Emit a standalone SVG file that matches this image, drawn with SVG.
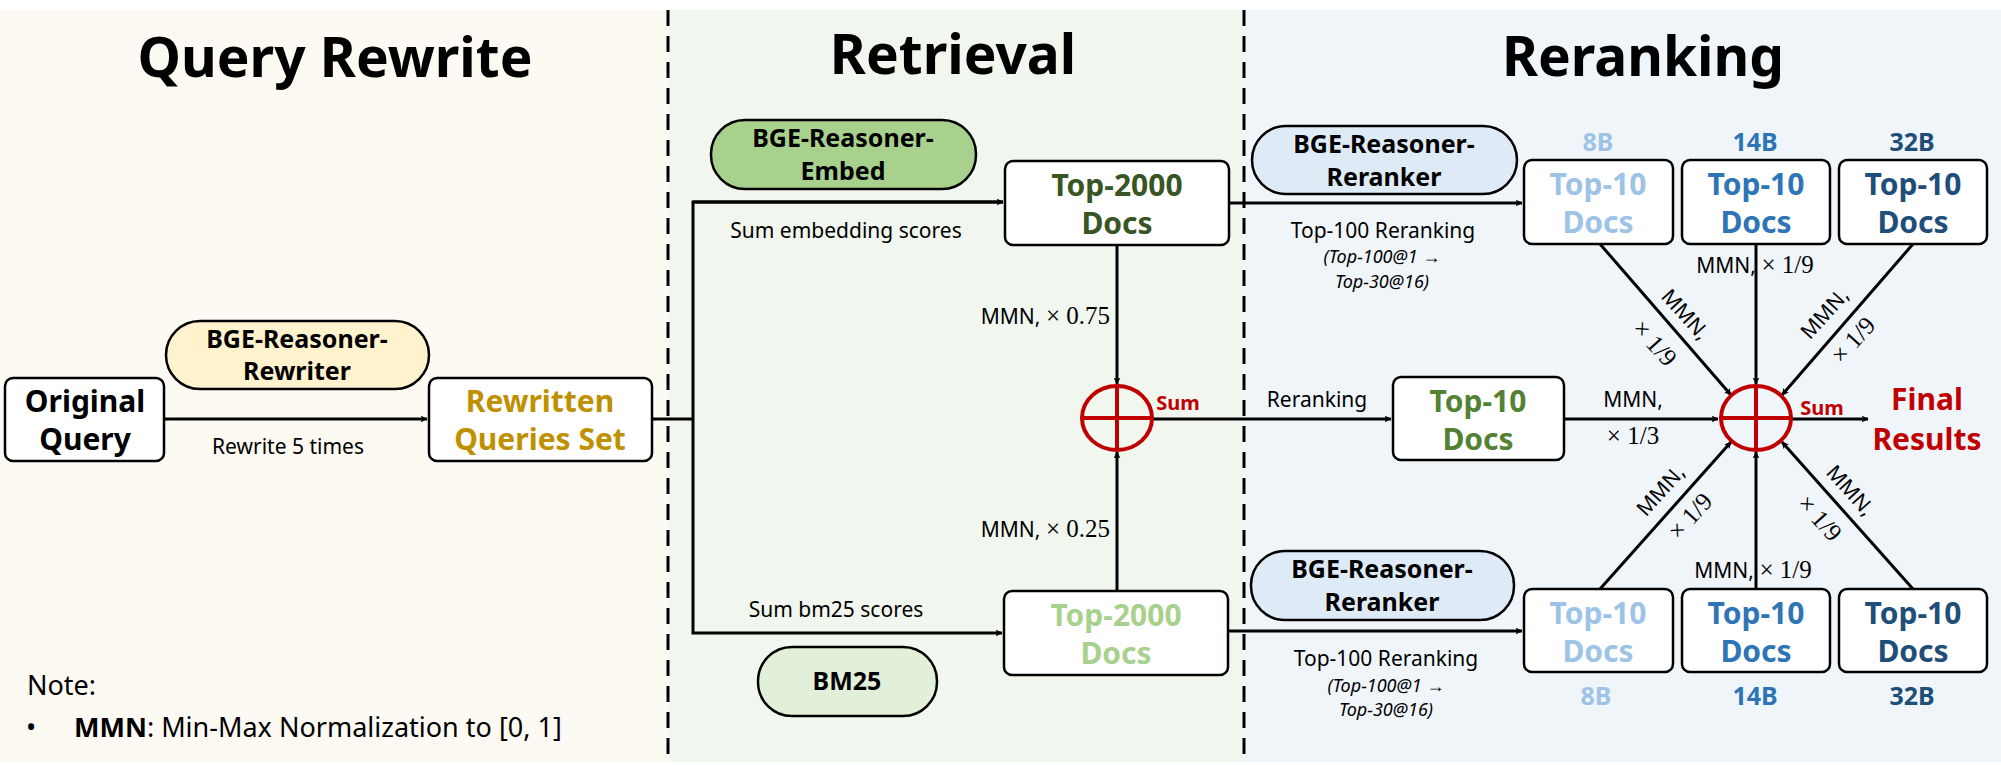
<svg xmlns="http://www.w3.org/2000/svg" width="2001" height="765" viewBox="0 0 2001 765">
<style>
text{font-family:"Noto Sans","Open Sans",sans-serif;text-anchor:middle}
.t{font-size:55px;font-weight:bold}
.n{fill:#fff;stroke:#000;stroke-width:2.5}
.b{font-size:30px;font-weight:bold}
.p{font-size:25px;font-weight:bold}
.l{font-size:21px}
.i{font-size:18px;font-style:italic}
.m{font-family:"Liberation Serif",serif;font-size:25px}
.r{dominant-baseline:central}
.c{fill:none;stroke:#000;stroke-width:3}
.s{fill:none;stroke:#c00000;stroke-width:4}
.dash{stroke:#000;stroke-width:3;stroke-dasharray:16,10}
</style>
<defs>
<marker id="a" viewBox="0 0 12 12" refX="11" refY="6" markerWidth="7" markerHeight="7" orient="auto" markerUnits="userSpaceOnUse">
<path d="M0,0 L12,6 L0,12 L3,6 Z" fill="#000"/>
</marker>
</defs>
<rect width="2001" height="765" fill="#fff"/>
<rect x="0" y="10" width="668" height="752" fill="#fdfaf3"/>
<rect x="668" y="10" width="576" height="752" fill="#f1f6ee"/>
<rect x="1244" y="10" width="757" height="752" fill="#f0f5fa"/>
<line class="dash" x1="668" y1="10" x2="668" y2="762"/>
<line class="dash" x1="1244" y1="10" x2="1244" y2="762"/>
<text class="t" x="335" y="77">Query Rewrite</text>
<text class="t" x="953" y="74">Retrieval</text>
<text class="t" x="1643" y="76">Reranking</text>

<g id="connectors">
<line class="c" x1="164" y1="419" x2="427" y2="419" marker-end="url(#a)"/>
<polyline class="c" points="652,419 693,419"/>
<polyline class="c" points="1003,202 693,202 693,633 1002,633" marker-end="url(#a)"/>
<line class="c" x1="693" y1="202" x2="1003" y2="202" marker-end="url(#a)"/>
<line class="c" x1="1117" y1="245" x2="1117" y2="384" marker-end="url(#a)"/>
<line class="c" x1="1117" y1="591" x2="1117" y2="452" marker-end="url(#a)"/>
<line class="c" x1="1153" y1="419" x2="1391" y2="419" marker-end="url(#a)"/>
<line class="c" x1="1229" y1="203" x2="1522" y2="203" marker-end="url(#a)"/>
<line class="c" x1="1228" y1="631" x2="1522" y2="631" marker-end="url(#a)"/>
<line class="c" x1="1564" y1="419" x2="1718" y2="419" marker-end="url(#a)"/>
<line class="c" x1="1600" y1="244" x2="1731" y2="395" marker-end="url(#a)"/>
<line class="c" x1="1756" y1="244" x2="1756" y2="384" marker-end="url(#a)"/>
<line class="c" x1="1913" y1="244" x2="1782" y2="395" marker-end="url(#a)"/>
<line class="c" x1="1600" y1="589" x2="1731" y2="442" marker-end="url(#a)"/>
<line class="c" x1="1756" y1="589" x2="1756" y2="452" marker-end="url(#a)"/>
<line class="c" x1="1913" y1="589" x2="1782" y2="442" marker-end="url(#a)"/>
<line class="c" x1="1792" y1="419" x2="1868" y2="419" marker-end="url(#a)"/>
</g>

<g id="labels">
<text class="l" x="288" y="454">Rewrite 5 times</text>
<text class="l" x="846" y="238">Sum embedding scores</text>
<text class="l" x="836" y="617">Sum bm25 scores</text>
<text class="l" x="1110" y="324" style="text-anchor:end">MMN, <tspan class="m">× 0.75</tspan></text>
<text class="l" x="1110" y="537" style="text-anchor:end">MMN, <tspan class="m">× 0.25</tspan></text>
<text class="l" x="1317" y="407">Reranking</text>
<text class="l" x="1383" y="238">Top-100 Reranking</text>
<text class="i" x="1382" y="263">(Top-100@1 →</text>
<text class="i" x="1382" y="288">Top-30@16)</text>
<text class="l" x="1386" y="666">Top-100 Reranking</text>
<text class="i" x="1386" y="692">(Top-100@1 →</text>
<text class="i" x="1386" y="716">Top-30@16)</text>
<text class="l" x="1633" y="407">MMN,</text>
<text class="m" x="1633" y="444">× 1/3</text>
<text class="l" x="1755" y="273">MMN, <tspan class="m">× 1/9</tspan></text>
<text class="l" x="1753" y="578">MMN, <tspan class="m">× 1/9</tspan></text>
<text class="l r" transform="translate(1686,314) rotate(48)">MMN,</text>
<text class="m r" transform="translate(1655,343) rotate(48)">× 1/9</text>
<text class="l r" transform="translate(1824,313) rotate(-48)">MMN,</text>
<text class="m r" transform="translate(1853,340) rotate(-48)">× 1/9</text>
<text class="l r" transform="translate(1660,490) rotate(-48)">MMN,</text>
<text class="m r" transform="translate(1690,516) rotate(-48)">× 1/9</text>
<text class="l r" transform="translate(1851,490) rotate(48)">MMN,</text>
<text class="m r" transform="translate(1820,518) rotate(48)">× 1/9</text>
</g>

<g id="original"><rect class="n" x="5" y="378" width="159" height="83" rx="8"/>
<text class="b" x="85" y="412" font-size="28">Original</text><text class="b" x="85" y="450" font-size="28">Query</text></g>
<g id="rewriter"><rect x="166" y="321" width="263" height="68" rx="34" fill="#fff2cc" stroke="#000" stroke-width="2.5"/>
<text class="p" x="297" y="348">BGE-Reasoner-</text><text class="p" x="297" y="380">Rewriter</text></g>
<g id="rewritten"><rect class="n" x="429" y="378" width="223" height="83" rx="8"/>
<text class="b" x="540" y="412" fill="#bf9000" font-size="28">Rewritten</text><text class="b" x="540" y="450" fill="#bf9000" font-size="28">Queries Set</text></g>

<g id="embed"><rect x="711" y="120" width="265" height="69" rx="34" fill="#a9d18e" stroke="#000" stroke-width="2.5"/>
<text class="p" x="843" y="147">BGE-Reasoner-</text><text class="p" x="843" y="180">Embed</text></g>
<g id="top2000a"><rect class="n" x="1005" y="161" width="224" height="84" rx="8"/>
<text class="b" x="1117" y="196" fill="#375623">Top-2000</text><text class="b" x="1117" y="234" fill="#375623">Docs</text></g>
<g id="top2000b"><rect class="n" x="1004" y="591" width="224" height="84" rx="8"/>
<text class="b" x="1116" y="626" fill="#a9d18e">Top-2000</text><text class="b" x="1116" y="664" fill="#a9d18e">Docs</text></g>
<g id="bm25"><rect x="758" y="647" width="179" height="69" rx="34" fill="#e2efd9" stroke="#000" stroke-width="2.5"/>
<text class="p" x="847" y="690">BM25</text></g>
<g id="sum1"><ellipse class="s" cx="1117" cy="418" rx="35" ry="32"/><line class="s" x1="1117" y1="386" x2="1117" y2="450"/><line class="s" x1="1082" y1="418" x2="1152" y2="418"/>
<text x="1178" y="410" fill="#c00000" font-size="20" font-weight="bold">Sum</text></g>

<g id="reranker1"><rect x="1252" y="126" width="265" height="68" rx="34" fill="#deebf7" stroke="#000" stroke-width="2.5"/>
<text class="p" x="1384" y="153">BGE-Reasoner-</text><text class="p" x="1384" y="186">Reranker</text></g>
<g id="reranker2"><rect x="1251" y="551" width="263" height="69" rx="34" fill="#deebf7" stroke="#000" stroke-width="2.5"/>
<text class="p" x="1382" y="578">BGE-Reasoner-</text><text class="p" x="1382" y="611">Reranker</text></g>

<g id="t8a"><text class="p" x="1598" y="151" fill="#9dc3e6">8B</text><rect class="n" x="1524" y="160" width="149" height="84" rx="8"/>
<text class="b" x="1598" y="195" fill="#9dc3e6">Top-10</text><text class="b" x="1598" y="233" fill="#9dc3e6">Docs</text></g>
<g id="t14a"><text class="p" x="1755" y="151" fill="#2e75b6">14B</text><rect class="n" x="1682" y="160" width="148" height="84" rx="8"/>
<text class="b" x="1756" y="195" fill="#2e75b6">Top-10</text><text class="b" x="1756" y="233" fill="#2e75b6">Docs</text></g>
<g id="t32a"><text class="p" x="1912" y="151" fill="#1f4e79">32B</text><rect class="n" x="1839" y="160" width="148" height="84" rx="8"/>
<text class="b" x="1913" y="195" fill="#1f4e79">Top-10</text><text class="b" x="1913" y="233" fill="#1f4e79">Docs</text></g>
<g id="t8b"><rect class="n" x="1524" y="589" width="149" height="83" rx="8"/>
<text class="b" x="1598" y="624" fill="#9dc3e6">Top-10</text><text class="b" x="1598" y="662" fill="#9dc3e6">Docs</text><text class="p" x="1596" y="705" fill="#9dc3e6">8B</text></g>
<g id="t14b"><rect class="n" x="1682" y="589" width="148" height="83" rx="8"/>
<text class="b" x="1756" y="624" fill="#2e75b6">Top-10</text><text class="b" x="1756" y="662" fill="#2e75b6">Docs</text><text class="p" x="1755" y="705" fill="#2e75b6">14B</text></g>
<g id="t32b"><rect class="n" x="1839" y="589" width="148" height="83" rx="8"/>
<text class="b" x="1913" y="624" fill="#1f4e79">Top-10</text><text class="b" x="1913" y="662" fill="#1f4e79">Docs</text><text class="p" x="1912" y="705" fill="#1f4e79">32B</text></g>
<g id="t10mid"><rect class="n" x="1393" y="377" width="171" height="83" rx="8"/>
<text class="b" x="1478" y="412" fill="#548235">Top-10</text><text class="b" x="1478" y="450" fill="#548235">Docs</text></g>
<g id="sum2"><ellipse class="s" cx="1756" cy="418" rx="35" ry="32"/><line class="s" x1="1756" y1="386" x2="1756" y2="450"/><line class="s" x1="1721" y1="418" x2="1791" y2="418"/>
<text x="1822" y="415" fill="#c00000" font-size="20" font-weight="bold">Sum</text></g>
<g id="final"><text class="b" x="1927" y="410" fill="#c00000" font-size="29">Final</text><text class="b" x="1927" y="450" fill="#c00000" font-size="29">Results</text></g>

<g id="note"><text x="27" y="695" font-size="27" style="text-anchor:start">Note:</text>
<text x="26" y="737" font-size="27" style="text-anchor:start">•</text>
<text x="74" y="737" font-size="27" style="text-anchor:start"><tspan font-weight="bold">MMN</tspan>: Min-Max Normalization to [0, 1]</text></g>
</svg>
